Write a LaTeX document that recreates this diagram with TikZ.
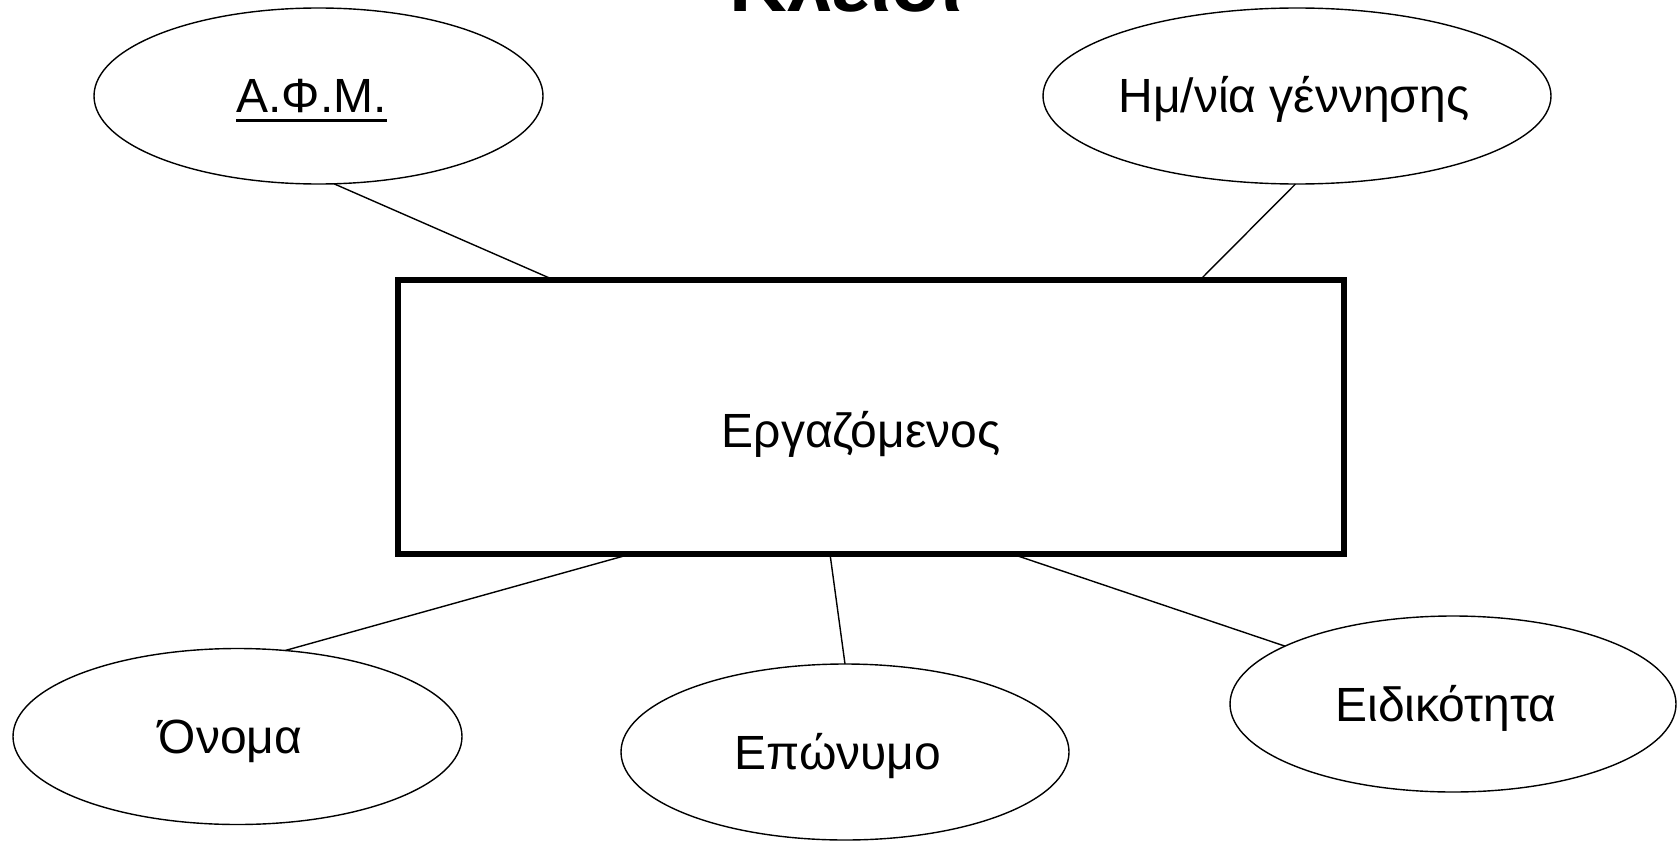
\documentclass[tikz,border=0pt]{standalone}
\usepackage{fontspec}
\setmainfont{Liberation Sans}
\usetikzlibrary{shapes.geometric}
\newcommand{\keyul}[1]{\leavevmode\setbox0\hbox{#1}\rlap{\rule[-9pt]{\wd0}{3pt}}\box0}
\tikzset{
  attr/.style={ellipse, draw=black, line width=1.4pt, inner sep=0pt, outer sep=0pt,
    font=\fontsize{48}{48}\selectfont, text height=34pt, text depth=0pt,
    execute at end node={\hspace*{14pt}}},
  entity/.style={rectangle, draw=black, line width=5.5pt, inner sep=0pt, outer sep=0pt,
    minimum width=946pt, minimum height=274pt,
    font=\fontsize{48}{48}\selectfont, text height=60pt, text depth=0pt,
    execute at end node={\hspace*{20pt}}},
  link/.style={draw=black, line width=1.4pt},
  titletext/.style={font=\fontsize{80}{80}\selectfont\bfseries, inner sep=0pt, anchor=base}
}
\begin{document}
\begin{tikzpicture}[x=1pt, y=-1pt]
\useasboundingbox (0,0) rectangle (1677,840);
\node[titletext] (title) at (846,12) {Κλειδί};
\node[entity] (emp) at (871,417) {Εργαζόμενος};
\node[attr, minimum width=449pt, minimum height=176pt] (afm) at (318.5,96) {\keyul{Α.Φ.Μ.}};
\node[attr, minimum width=508pt, minimum height=176pt] (dob) at (1297,96) {Ημ/νία γέννησης\hspace*{-8pt}};
\node[attr, minimum width=449pt, minimum height=176pt] (name) at (237.5,736.5) {Όνομα};
\node[attr, minimum width=448pt, minimum height=176pt] (surname) at (845,752) {Επώνυμο};
\node[attr, minimum width=446pt, minimum height=176pt] (spec) at (1453,704) {Ειδικότητα};
\draw[link] (afm.-80) -- ([xshift=156pt]emp.north west);
\draw[link] (dob.-91) -- ([xshift=802pt]emp.north west);
\draw[link] (name.61.5) -- ([xshift=233pt]emp.south west);
\draw[link] (surname.north) -- ([xshift=432pt]emp.south west);
\draw[link] (spec.161.7) -- ([xshift=614pt]emp.south west);
\end{tikzpicture}
\end{document}
